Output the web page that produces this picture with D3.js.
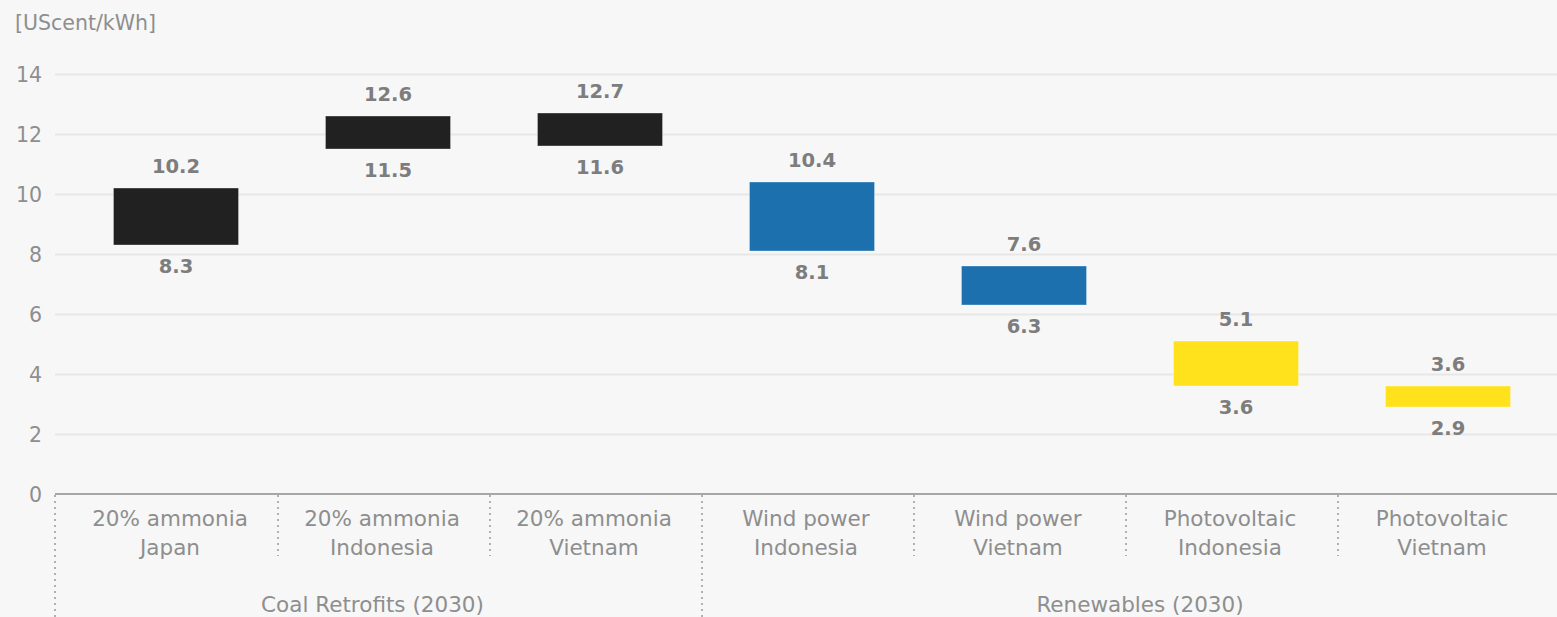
<!DOCTYPE html>
<html>
<head>
<meta charset="utf-8">
<script src="https://cdn.jsdelivr.net/npm/d3@7"></script>
<style>
  html, body { margin: 0; padding: 0; background: #f7f7f7; }
  svg { display: block; }
  text { font-family: "DejaVu Sans", sans-serif; }
</style>
</head>
<body>
<svg id="chart" width="1557" height="617"></svg>
<script>
// Levelised cost ranges, US cents per kWh (2030)
const categories = [
  ["20% ammonia", "Japan"],
  ["20% ammonia", "Indonesia"],
  ["20% ammonia", "Vietnam"],
  ["Wind power", "Indonesia"],
  ["Wind power", "Vietnam"],
  ["Photovoltaic", "Indonesia"],
  ["Photovoltaic", "Vietnam"]
];
const lowValues  = [8.3, 11.5, 11.6, 8.1, 6.3, 3.6, 2.9];
const highValues = [10.2, 12.6, 12.7, 10.4, 7.6, 5.1, 3.6];
const technology = ["coal", "coal", "coal", "wind", "wind", "solar", "solar"];
const groups = [
  { name: "Coal Retrofits (2030)", from: 0, to: 2 },
  { name: "Renewables (2030)", from: 3, to: 6 }
];
const yTicks = [0, 2, 4, 6, 8, 10, 12, 14];
const unitLabel = "[UScent/kWh]";

const colors = { coal: "#212122", wind: "#1b70ad", solar: "#ffe11c" };
const textGray = "#8e8e8e";

const W = 1557, H = 617;
const plotLeft = 55, plotRight = W;
const svg = d3.select("#chart");

const keys = categories.map((c, i) => i);
const x = d3.scaleBand().domain(keys).range([66, 1550]).paddingInner(0).paddingOuter(0);
const y = d3.scaleLinear().domain([0, 14]).range([494, 74]);
const barW = x.bandwidth() * 0.59;
const barOffset = 4;

// unit label
svg.append("text")
  .attr("x", 15).attr("y", 30)
  .attr("font-size", 20.5).attr("fill", textGray)
  .text(unitLabel);

// gridlines + tick labels
const yAxis = d3.axisLeft(y).tickValues(yTicks).tickSize(0).tickPadding(0);
const gy = svg.append("g").attr("transform", `translate(${plotLeft},0)`).call(yAxis);
gy.select(".domain").remove();
gy.selectAll(".tick text")
  .attr("x", -13).attr("dy", "0.36em")
  .attr("font-size", 20.5)
  .attr("fill", textGray)
  .style("font-family", "DejaVu Sans, sans-serif");
gy.selectAll(".tick").filter(d => d !== 0).append("line")
  .attr("x1", 0).attr("x2", plotRight - plotLeft)
  .attr("stroke", "#e7e7e7").attr("stroke-width", 2);

// bars (low to high range)
const data = keys.map(i => ({ i, low: lowValues[i], high: highValues[i], tech: technology[i] }));
const cx = d => x(d.i) + x.bandwidth() / 2 + barOffset;

svg.append("g").selectAll("rect").data(data).join("rect")
  .attr("x", d => cx(d) - barW / 2)
  .attr("y", d => y(d.high))
  .attr("width", barW)
  .attr("height", d => y(d.low) - y(d.high))
  .attr("fill", d => colors[d.tech])
  .attr("stroke", "rgba(255,255,255,0.35)")
  .attr("stroke-width", 1);

// value labels
const lbl = svg.append("g")
  .attr("font-size", 19.5).attr("font-weight", "bold").attr("fill", "#7d7d7d")
  .attr("text-anchor", "middle");
lbl.selectAll("text.hi").data(data).join("text").attr("class", "hi")
  .attr("x", cx).attr("y", d => y(d.high) - 22).attr("dy", "0.36em")
  .text(d => d.high.toFixed(1));
lbl.selectAll("text.lo").data(data).join("text").attr("class", "lo")
  .attr("x", cx).attr("y", d => y(d.low) + 21).attr("dy", "0.36em")
  .text(d => d.low.toFixed(1));

// x axis baseline
svg.append("line")
  .attr("x1", plotLeft).attr("x2", plotRight)
  .attr("y1", y(0)).attr("y2", y(0))
  .attr("stroke", "#8c8c8c").attr("stroke-width", 1.5);

// category dividers
const dash = "2,4";
keys.slice(1).forEach(i => {
  const isGroupEdge = groups.some(g => g.from === i);
  svg.append("line")
    .attr("x1", x(i)).attr("x2", x(i))
    .attr("y1", y(0) + 1).attr("y2", isGroupEdge ? H : 556)
    .attr("stroke", "#9a9a9a").attr("stroke-width", 1.5)
    .attr("stroke-dasharray", dash);
});
svg.append("line")
  .attr("x1", plotLeft).attr("x2", plotLeft)
  .attr("y1", y(0) + 1).attr("y2", H)
  .attr("stroke", "#9a9a9a").attr("stroke-width", 1.5)
  .attr("stroke-dasharray", dash);

// category labels
const cat = svg.append("g")
  .attr("font-size", 21.5).attr("fill", textGray)
  .attr("text-anchor", "middle");
categories.forEach((c, i) => {
  const t = cat.append("text").attr("x", x(i) + x.bandwidth() / 2 - 2).attr("y", 526);
  t.append("tspan").attr("x", x(i) + x.bandwidth() / 2 - 2).text(c[0]);
  t.append("tspan").attr("x", x(i) + x.bandwidth() / 2 - 2).attr("dy", 29).text(c[1]);
});

// group labels
groups.forEach((g, k) => {
  const left = k === 0 ? plotLeft : x(g.from);
  const right = x(g.to) + x.bandwidth();
  svg.append("text")
    .attr("x", (left + right) / 2 + (k === 0 ? -6 : 14))
    .attr("y", 612)
    .attr("font-size", 21.5).attr("fill", textGray)
    .attr("text-anchor", "middle")
    .text(g.name);
});
</script>
</body>
</html>
